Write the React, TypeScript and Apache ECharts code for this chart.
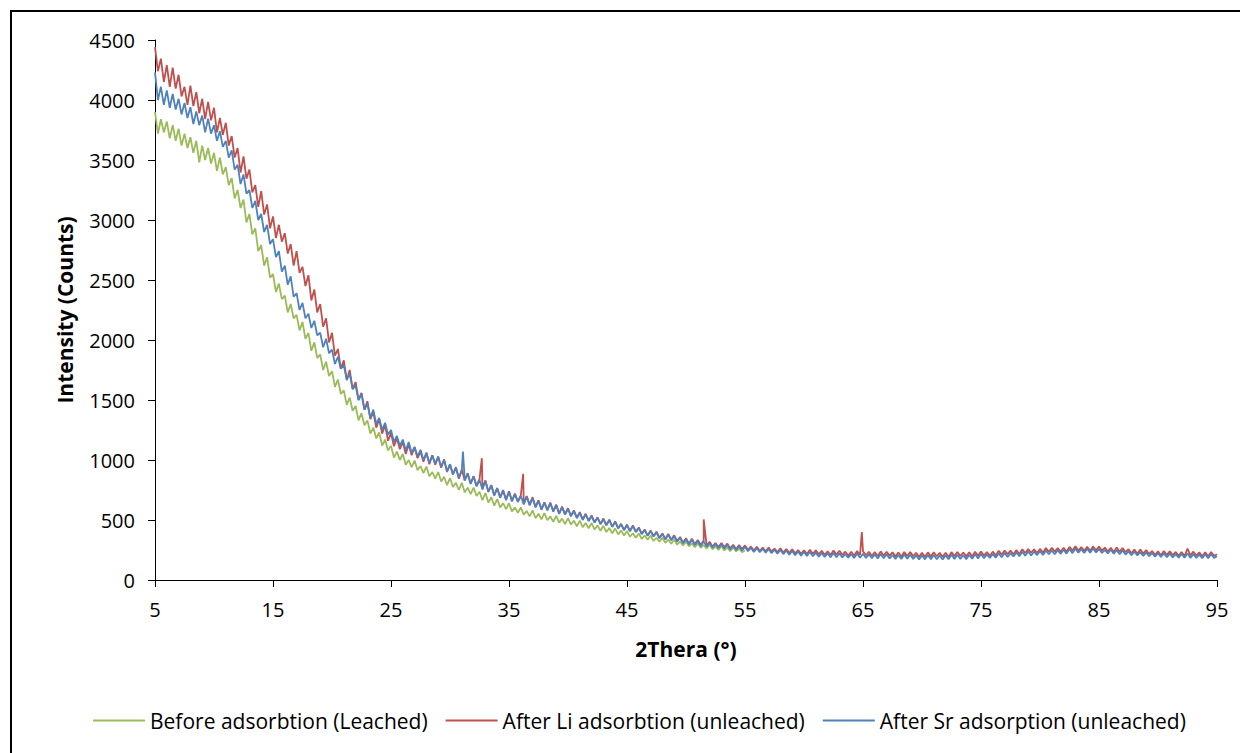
import React, { useEffect, useRef } from "react";
import * as echarts from "echarts";

const seriesNames = [
  "Before adsorbtion (Leached)",
  "After Li adsorbtion (unleached)",
  "After Sr adsorption (unleached)",
];
const seriesColors = ["#9BBB59", "#C0504D", "#4F81BD"];

// 2θ sampling grid of the scans (degrees)
const angleStart = 5;
const angleStep = 0.25;

// Before adsorbtion (Leached): 5° .. 55°
const beforeLeached = [
  3900, 3720, 3840, 3730, 3820, 3680, 3790, 3660, 3760, 3620, 3720, 3600, 3690, 3560, 3660, 3480,
  3620, 3500, 3600, 3470, 3560, 3410, 3520, 3380, 3440, 3290, 3350, 3180, 3250, 3100, 3170, 2980,
  3050, 2880, 2930, 2740, 2790, 2620, 2690, 2520, 2550, 2400, 2470, 2340, 2370, 2230, 2300, 2180,
  2210, 2080, 2150, 2010, 2060, 1910, 1980, 1850, 1880, 1750, 1820, 1700, 1740, 1610, 1670, 1550,
  1580, 1460, 1520, 1410, 1450, 1330, 1390, 1290, 1330, 1220, 1270, 1180, 1230, 1120, 1170, 1080,
  1120, 1020, 1070, 1000, 1050, 960, 1000, 940, 995, 915, 950, 890, 945, 865, 900, 845,
  900, 820, 860, 790, 850, 775, 810, 750, 810, 730, 770, 715, 770, 700, 735, 665,
  725, 645, 690, 620, 675, 605, 640, 590, 640, 570, 605, 560, 605, 545, 575, 530,
  580, 515, 552, 505, 558, 498, 530, 485, 535, 478, 512, 465, 515, 462, 495, 448,
  495, 440, 475, 430, 475, 420, 455, 410, 452, 400, 433, 390, 430, 380, 412, 370,
  408, 360, 390, 352, 388, 342, 370, 335, 370, 325, 352, 318, 352, 310, 336, 302,
  335, 294, 320, 288, 320, 280, 305, 274, 305, 268, 292, 262, 294, 256, 280, 250,
  282, 246, 270, 240, 272, 238, 262, 232, 246,
];

// After Li adsorbtion (unleached): 5° .. 95°
const afterLi = [
  4440, 4240, 4345, 4150, 4290, 4110, 4270, 4095, 4210, 4030, 4110, 3960, 4120, 3950, 4065, 3890,
  4010, 3840, 3985, 3830, 3935, 3730, 3850, 3710, 3810, 3620, 3700, 3520, 3600, 3395, 3530, 3345,
  3420, 3230, 3290, 3110, 3240, 3045, 3130, 2930, 3030, 2850, 2960, 2820, 2890, 2720, 2800, 2620,
  2740, 2560, 2610, 2450, 2540, 2330, 2420, 2230, 2300, 2110, 2180, 1980, 2060, 1870, 1925, 1760,
  1830, 1665, 1750, 1590, 1650, 1500, 1560, 1420, 1490, 1340, 1400, 1270, 1340, 1220, 1290, 1160,
  1225, 1115, 1180, 1090, 1150, 1050, 1130, 1040, 1105, 1015, 1070, 985, 1060, 965, 1040, 960,
  1025, 935, 1005, 900, 965, 880, 935, 845, 920, 830, 890, 805, 865, 785, 840, 760,
  830, 735, 790, 705, 765, 690, 750, 670, 740, 660, 720, 655, 705, 635, 700, 628,
  690, 610, 665, 590, 648, 585, 645, 575, 628, 555, 612, 550, 598, 535, 580, 520,
  565, 505, 552, 495, 538, 482, 522, 468, 512, 458, 503, 445, 488, 432, 468, 418,
  462, 410, 455, 403, 438, 386, 420, 372, 412, 367, 402, 352, 388, 342, 384, 336,
  372, 326, 358, 312, 348, 302, 345, 299, 334, 292, 330, 286, 318, 279, 308, 274,
  308, 274, 303, 264, 294, 259, 292, 258, 288, 252, 279, 246, 276, 242, 271, 240,
  270, 238, 262, 232, 264, 228, 258, 226, 256, 222, 250, 218, 248, 216, 252, 219,
  247, 214, 244, 210, 240, 208, 246, 212, 244, 210, 236, 204, 235, 203, 241, 208,
  240, 206, 235, 202, 233, 200, 238, 204, 236, 203, 230, 197, 229, 196, 234, 200,
  232, 199, 227, 193, 226, 193, 230, 197, 230, 198, 226, 194, 227, 194, 232, 199,
  233, 200, 229, 197, 230, 197, 235, 203, 237, 205, 233, 202, 236, 205, 243, 212,
  246, 216, 245, 215, 249, 217, 256, 225, 258, 227, 256, 225, 259, 228, 266, 235,
  268, 237, 266, 236, 269, 238, 276, 245, 282, 246, 274, 243, 276, 243, 279, 247,
  278, 245, 270, 237, 268, 234, 270, 236, 266, 232, 257, 223, 254, 219, 254, 220,
  250, 217, 241, 209, 240, 206, 242, 209, 240, 207, 234, 201, 234, 200, 262, 205,
  236, 203, 230, 197, 230, 196, 234, 201, 214,
];

// After Sr adsorption (unleached): 5° .. 95°
const afterSr = [
  4230, 4000, 4110, 3960, 4080, 3935, 4050, 3920, 4010, 3880, 3975, 3850, 3940, 3800, 3905, 3790,
  3870, 3730, 3845, 3720, 3790, 3660, 3740, 3610, 3660, 3520, 3580, 3420, 3460, 3300, 3380, 3220,
  3250, 3100, 3160, 3000, 3050, 2900, 2960, 2800, 2840, 2690, 2740, 2570, 2620, 2460, 2530, 2360,
  2390, 2250, 2310, 2180, 2220, 2100, 2160, 2040, 2060, 1940, 2010, 1890, 1920, 1800, 1860, 1760,
  1790, 1670, 1720, 1590, 1620, 1500, 1550, 1420, 1470, 1350, 1420, 1300, 1350, 1250, 1310, 1210,
  1250, 1150, 1200, 1120, 1170, 1080, 1150, 1060, 1110, 1030, 1085, 1000, 1060, 975, 1040, 970,
  1030, 945, 1000, 905, 965, 880, 940, 850, 915, 830, 885, 800, 865, 780, 835, 755,
  825, 735, 790, 705, 765, 685, 745, 665, 735, 655, 715, 650, 700, 630, 695, 622,
  682, 605, 660, 585, 645, 580, 640, 570, 622, 550, 605, 545, 592, 530, 575, 515,
  560, 500, 548, 490, 532, 478, 518, 465, 508, 455, 500, 442, 485, 430, 464, 415,
  456, 406, 450, 398, 432, 382, 416, 368, 408, 362, 397, 347, 383, 338, 378, 330,
  364, 318, 352, 305, 340, 296, 338, 292, 325, 284, 322, 278, 308, 270, 300, 264,
  298, 262, 293, 254, 286, 250, 282, 246, 276, 240, 268, 234, 266, 232, 260, 228,
  258, 224, 252, 220, 250, 216, 246, 210, 242, 206, 238, 202, 234, 200, 236, 198,
  228, 194, 226, 192, 222, 190, 226, 190, 222, 188, 216, 186, 215, 184, 220, 186,
  218, 184, 214, 182, 212, 180, 216, 182, 214, 180, 208, 176, 208, 176, 212, 178,
  210, 176, 205, 172, 204, 172, 208, 174, 208, 173, 204, 172, 205, 174, 210, 176,
  210, 176, 206, 174, 208, 178, 214, 180, 216, 182, 212, 184, 216, 186, 222, 190,
  226, 192, 224, 196, 230, 198, 236, 202, 238, 204, 236, 208, 240, 208, 246, 214,
  246, 214, 248, 218, 252, 220, 258, 224, 262, 228, 256, 226, 260, 228, 262, 230,
  258, 226, 250, 222, 252, 220, 248, 216, 246, 212, 238, 206, 236, 204, 232, 200,
  230, 198, 224, 194, 224, 192, 222, 190, 220, 188, 216, 186, 218, 186, 222, 184,
  216, 184, 212, 182, 214, 182, 216, 184, 198,
];

// Narrow diffraction spikes
const liSpikeAngles = [32.7, 36.2, 51.5, 64.9];
const liSpikePeaks = [1015, 885, 505, 400];
const srSpikeAngles = [31.1];
const srSpikePeaks = [1070];

const xTickValues = [5, 15, 25, 35, 45, 55, 65, 75, 85, 95];
const yMin = 0;
const yMax = 4500;
const yStep = 500;

function toPoints(values: number[], spikeAngles: number[], spikePeaks: number[]) {
  const pts: number[][] = values.map((v, i) => [angleStart + i * angleStep, v]);
  spikeAngles.forEach((a, i) => pts.push([a, spikePeaks[i]]));
  pts.sort((p, q) => p[0] - q[0]);
  return pts;
}

const FONT = "'Open Sans', 'Noto Sans', sans-serif";

export default function App() {
  const ref = useRef<HTMLDivElement>(null);
  useEffect(() => {
    if (!ref.current) return;
    const chart = echarts.init(ref.current, undefined, { renderer: "svg" });
    const seriesData = [
      toPoints(beforeLeached, [], []),
      toPoints(afterLi, liSpikeAngles, liSpikePeaks),
      toPoints(afterSr, srSpikeAngles, srSpikePeaks),
    ];
    chart.setOption({
      animation: false,
      backgroundColor: "#ffffff",
      textStyle: { fontFamily: FONT, color: "#000" },
      grid: { left: 147, top: 32, width: 1062, height: 540, containLabel: false },
      graphic: [
        {
          type: "rect",
          shape: { x: 3, y: 3, width: 1300, height: 800 },
          style: { fill: "none", stroke: "#000", lineWidth: 2 },
          silent: true,
        },
      ],
      legend: {
        top: 697,
        left: 80,
        icon: "rect",
        itemWidth: 52,
        itemHeight: 2,
        itemGap: 18,
        textStyle: { fontFamily: FONT, fontSize: 21, color: "#000" },
        data: seriesNames,
      },
      xAxis: {
        type: "value",
        min: 5,
        max: 95,
        name: "2Thera (°)",
        nameLocation: "middle",
        nameGap: 58,
        nameTextStyle: { fontFamily: FONT, fontWeight: "bold", fontSize: 21, color: "#000" },
        axisLine: { show: true, lineStyle: { color: "#000", width: 1 } },
        axisTick: { show: true, inside: false, length: 7, customValues: xTickValues, lineStyle: { color: "#000" } },
        axisLabel: { customValues: xTickValues, fontFamily: FONT, fontSize: 20, color: "#000", margin: 19 },
        splitLine: { show: false },
      },
      yAxis: {
        type: "value",
        min: yMin,
        max: yMax,
        interval: yStep,
        name: "Intensity (Counts)",
        nameLocation: "middle",
        nameGap: 80,
        nameTextStyle: { fontFamily: FONT, fontWeight: "bold", fontSize: 21, color: "#000" },
        axisLine: { show: true, lineStyle: { color: "#000", width: 1 } },
        axisTick: { show: true, inside: false, length: 7, lineStyle: { color: "#000" } },
        axisLabel: {
          fontFamily: FONT,
          fontSize: 20,
          color: "#000",
          margin: 20,
          formatter: (v: number) => String(v),
        },
        splitLine: { show: false },
      },
      series: seriesNames.map((name, i) => ({
        name,
        type: "line",
        data: seriesData[i],
        showSymbol: false,
        symbol: "none",
        color: seriesColors[i],
        lineStyle: { color: seriesColors[i], width: 1.8 },
        z: 2 + i,
      })),
    });
    return () => chart.dispose();
  }, []);
  return <div ref={ref} style={{ width: 1240, height: 745 }} />;
}
